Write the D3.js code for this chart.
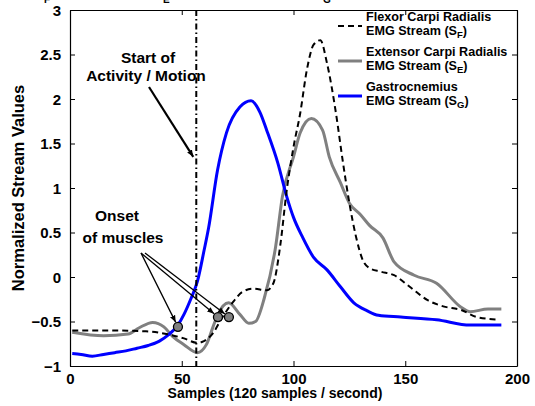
<!DOCTYPE html>
<html><head><meta charset="utf-8">
<script src="https://cdn.jsdelivr.net/npm/d3@7"></script>
<style>
body{margin:0;background:#fff;}
text{font-family:"Liberation Sans",Arial,sans-serif;font-weight:bold;}
</style></head>
<body><svg id="c" width="535" height="406"></svg>
<script>
// ---- data ----
const xTicks = [0, 50, 100, 150, 200];
const yTicks = [-1, -0.5, 0, 0.5, 1, 1.5, 2, 2.5, 3];

const flexorS = [1,15,34,45,51,57,59,64,68,73,77,82,88,91,94,97,100,103,106,109,112,115,119,122,125,128,131,134,139,145,152,160,167,175,182,192];
const flexorV = [-0.60,-0.60,-0.61,-0.65,-0.69,-0.74,-0.73,-0.63,-0.46,-0.28,-0.17,-0.13,-0.15,-0.07,0.34,0.98,1.46,1.84,2.33,2.61,2.66,2.40,1.84,1.31,0.83,0.45,0.19,0.10,0.06,0.02,-0.11,-0.26,-0.33,-0.37,-0.45,-0.48];

const extensorS = [1,15,26,31,37,42,46,51,57,61,64,66,71,76,80,83,87,92,95,100,103,108,113,116,121,125,130,134,140,145,154,164,175,179,187,193];
const extensorV = [-0.62,-0.66,-0.64,-0.57,-0.51,-0.56,-0.67,-0.76,-0.85,-0.76,-0.56,-0.43,-0.29,-0.42,-0.52,-0.50,-0.23,0.34,0.90,1.35,1.62,1.78,1.65,1.35,1.06,0.83,0.70,0.58,0.44,0.17,0.02,-0.07,-0.34,-0.39,-0.36,-0.36];

const gastroS = [1,5,10,15,20,25,30,35,40,44,48,51,54,57,60,62,66,70,76,81,85,88,93,97,100,104,109,115,121,127,133,138,148,164,179,193];
const gastroV = [-0.86,-0.87,-0.89,-0.87,-0.85,-0.83,-0.80,-0.77,-0.72,-0.65,-0.55,-0.42,-0.25,-0.05,0.30,0.55,1.20,1.62,1.91,1.98,1.85,1.65,1.28,0.90,0.67,0.45,0.22,0.08,-0.11,-0.29,-0.38,-0.43,-0.45,-0.48,-0.54,-0.54];

const onsetS = [48.3, 66.2, 71.1];
const onsetV = [-0.56, -0.45, -0.45];
const startSample = 56.5;

const seriesNames = ["Flexor Carpi Radialis", "Extensor Carpi Radialis", "Gastrocnemius"];
const seriesSubs = ["F", "E", "G"];

// ---- chart ----
const svg = d3.select("#c");
const L = 70, R = 517, T = 10, B = 366;
const x = d3.scaleLinear().domain([0, 200]).range([L, R]);
const y = d3.scaleLinear().domain([-1, 3]).range([B, T]);
const fmt = d => d < 0 ? "\u2212" + Math.abs(d) : String(d);

// cut-off title fragments at the very top (as in the reference)
const frag = svg.append("g").attr("font-size", 10);
[["F",44],["E",163],["G",323]].forEach(([t,px]) => frag.append("text").attr("x",px).attr("y",3).text(t));

// axes box
const gx = svg.append("g").attr("transform", `translate(0,${B})`)
  .call(d3.axisBottom(x).tickValues(xTicks).tickSizeInner(-5).tickSizeOuter(0).tickPadding(7).tickFormat(fmt));
const gxt = svg.append("g").attr("transform", `translate(0,${T})`)
  .call(d3.axisTop(x).tickValues(xTicks).tickSizeInner(-5).tickSizeOuter(0).tickFormat(""));
const gy = svg.append("g").attr("transform", `translate(${L},0)`)
  .call(d3.axisLeft(y).tickValues(yTicks).tickSizeInner(-5).tickSizeOuter(0).tickPadding(9).tickFormat(fmt));
const gyr = svg.append("g").attr("transform", `translate(${R},0)`)
  .call(d3.axisRight(y).tickValues(yTicks).tickSizeInner(-5).tickSizeOuter(0).tickFormat(""));
[gx,gxt,gy,gyr].forEach(g => {
  g.select(".domain").attr("stroke","#000").attr("stroke-width",1.2);
  g.selectAll(".tick line").attr("stroke","#000");
  g.selectAll("text").attr("font-size",15).attr("font-family","Liberation Sans, Arial, sans-serif").attr("font-weight","bold").attr("fill","#000");
});
gy.selectAll("text").attr("dy","0.36em");

svg.append("text").attr("x", 275).attr("y", 398).attr("text-anchor","middle").attr("font-size",14)
  .text("Samples (120 samples / second)");
svg.append("text").attr("transform", `translate(24,${(T+B)/2}) rotate(-90)`).attr("text-anchor","middle").attr("font-size",16.5)
  .text("Normalized Stream Values");

// lines
const line = d3.line().curve(d3.curveMonotoneX).x(d => x(d[0])).y(d => y(d[1]));
const zip = (a,b) => a.map((v,i)=>[v,b[i]]);
const plot = svg.append("g");
plot.append("path").datum(zip(extensorS, extensorV)).attr("d", line)
  .attr("fill","none").attr("stroke","#808080").attr("stroke-width",3);
plot.append("path").datum(zip(gastroS, gastroV)).attr("d", line)
  .attr("fill","none").attr("stroke","#0000ff").attr("stroke-width",3);
plot.append("path").datum(zip(flexorS, flexorV)).attr("d", line)
  .attr("fill","none").attr("stroke","#000").attr("stroke-width",2).attr("stroke-dasharray","6,4");

// vertical start line (dash-dot)
plot.append("line").attr("x1", x(startSample)).attr("x2", x(startSample)).attr("y1", T).attr("y2", B)
  .attr("stroke","#000").attr("stroke-width",2).attr("stroke-dasharray","6,3,1.5,3");

// arrow marker
const defs = svg.append("defs");
defs.append("marker").attr("id","ah").attr("viewBox","0 0 10 10").attr("refX",10).attr("refY",5)
  .attr("markerWidth",7).attr("markerHeight",7).attr("orient","auto").attr("markerUnits","userSpaceOnUse")
  .append("path").attr("d","M0,1 L10,5 L0,9 z").attr("fill","#000");

// Start of activity annotation
svg.append("text").attr("x",148).attr("y",63).attr("text-anchor","middle").attr("font-size",15.5).text("Start of");
svg.append("text").attr("x",146).attr("y",81).attr("text-anchor","middle").attr("font-size",15.5).text("Activity / Motion");
svg.append("line").attr("x1",149).attr("y1",87).attr("x2",x(startSample)-3).attr("y2",y(1.35))
  .attr("stroke","#000").attr("stroke-width",2.2).attr("marker-end","url(#ah)");

// onset annotation
svg.append("text").attr("x",117).attr("y",221).attr("text-anchor","middle").attr("font-size",15.5).text("Onset");
svg.append("text").attr("x",123).attr("y",243).attr("text-anchor","middle").attr("font-size",15.5).text("of muscles");
const origins = [[141,253],[141,253],[145,253]];
onsetS.forEach((s,i) => {
  const tx = x(s), ty = y(onsetV[i]);
  const [ox,oy] = origins[i];
  const dx = tx-ox, dy = ty-oy, len = Math.hypot(dx,dy);
  svg.append("line").attr("x1",ox).attr("y1",oy).attr("x2",tx - dx/len*5).attr("y2",ty - dy/len*5)
    .attr("stroke","#000").attr("stroke-width",1.3).attr("marker-end","url(#ah)");
});
svg.selectAll("circle.onset").data(onsetS).join("circle").attr("class","onset")
  .attr("cx", d => x(d)).attr("cy", (d,i) => y(onsetV[i])).attr("r",4.5)
  .attr("fill","#808080").attr("stroke","#000").attr("stroke-width",1.3);

// legend
const lg = svg.append("g");
const legStyles = [
  {stroke:"#000", w:2, dash:"6,4"},
  {stroke:"#808080", w:3, dash:null},
  {stroke:"#0000ff", w:3, dash:null}
];
seriesNames.forEach((n,i) => {
  const by = 21 + i*35;
  lg.append("line").attr("x1",338).attr("x2",362).attr("y1",by+5).attr("y2",by+5)
    .attr("stroke",legStyles[i].stroke).attr("stroke-width",legStyles[i].w).attr("stroke-dasharray",legStyles[i].dash);
  lg.append("text").attr("x",366).attr("y",by).attr("font-size",12.6).text(n);
  const t2 = lg.append("text").attr("x",366).attr("y",by+14).attr("font-size",12.6);
  t2.append("tspan").text("EMG Stream (S");
  t2.append("tspan").attr("font-size",9.5).attr("dy",3).text(seriesSubs[i]);
  t2.append("tspan").attr("dy",-3).text(")");
});
</script></body></html>
